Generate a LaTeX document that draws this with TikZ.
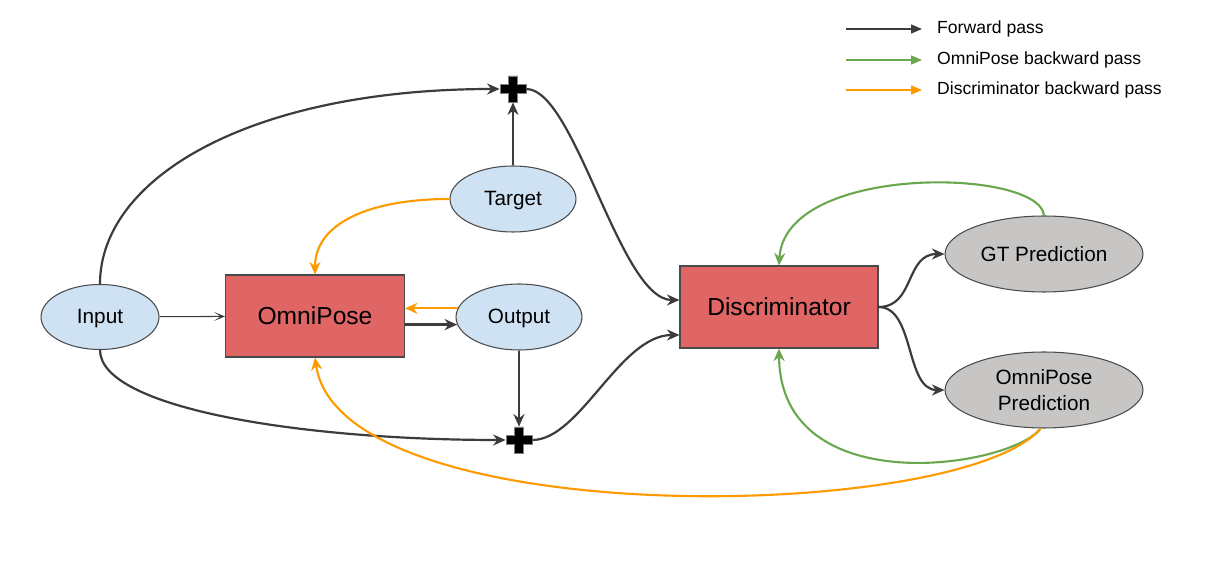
\documentclass[tikz,border=0pt]{standalone}
\usepackage{fontspec}
\setmainfont{Liberation Sans}
\usetikzlibrary{arrows.meta,calc,shapes.geometric}
\definecolor{fwdgray}{HTML}{3F3B3B}
\definecolor{edgegray}{HTML}{4A4A4A}
\definecolor{ombgreen}{HTML}{6AA84F}
\definecolor{disorange}{HTML}{FF9900}
\definecolor{datablue}{HTML}{CFE2F3}
\definecolor{netred}{HTML}{E06666}
\definecolor{predgray}{RGB}{200,198,196}
\tikzset{
    datanode/.style={ellipse, draw=edgegray, fill=datablue, line width=0.6pt, inner sep=0pt,
      minimum width=2.52cm, minimum height=1.32cm, text height=0.905em, text depth=0.212em,
      font=\fontsize{11.8}{14}\selectfont},
    netnode/.style={rectangle, draw=edgegray, fill=netred, line width=0.6pt, inner sep=0pt,
      minimum height=1.64cm, text height=0.95em, text depth=0pt, font=\fontsize{14}{16}\selectfont},
    prednode/.style={ellipse, draw=edgegray, fill=predgray, line width=0.6pt, inner sep=0pt,
      minimum width=3.96cm, minimum height=1.52cm, align=center, font=\fontsize{11.8}{14.8}\selectfont},
    plusnode/.style={rectangle, inner sep=0pt, minimum size=0.52cm},
    plusfill/.style={fill=black, draw=gray, line width=0.5pt},
    fwd/.style={draw=fwdgray, line width=1.25pt, -{Stealth[length=0.25cm, width=0.22cm, inset=0.08cm]}},
    thinfwd/.style={draw=fwdgray, line width=0.6pt, -{Stealth[length=0.22cm, width=0.18cm, inset=0.13cm]}},
    obwd/.style={draw=ombgreen, line width=1.2pt, -{Stealth[length=0.25cm, width=0.22cm, inset=0.08cm]}},
    dbwd/.style={draw=disorange, line width=1.2pt, -{Stealth[length=0.25cm, width=0.22cm, inset=0.08cm]}},
    legendtext/.style={anchor=west, font=\fontsize{10}{12}\selectfont},
    legendarrow/.style={line width=0.8pt, shorten >=0.18cm, -{Triangle[length=0.22cm, width=0.18cm]}},
  }
\begin{document}
\begin{tikzpicture}[x=0.02cm,y=0.02cm]
	\useasboundingbox (0,0) rectangle (1225,568);
	%NODES
	\node[datanode, minimum width=2.36cm, minimum height=1.3cm] (input) at (100,251) {Input};
	\node[netnode, minimum width=3.58cm] (omnipose) at (315,252) {OmniPose};
	\node[datanode] (output) at (519,251) {Output};
	\node[datanode] (target) at (513,369) {Target};
	\node[netnode, minimum width=3.96cm] (disc) at (779,261) {Discriminator};
	\node[prednode] (gtpred) at (1044,314) {GT Prediction};
	\node[prednode] (ompred) at (1044,178) {OmniPose\\Prediction};
	%PLUS
	\node[plusnode] (plustop) at (513,479) {};
	\node[plusnode] (plusbot) at (519,128) {};
	\foreach \p in {plustop,plusbot}
	  \filldraw[plusfill] (\p) ++(-13,-4.5) -- ++(8.5,0) -- ++(0,-8.5) -- ++(9,0) -- ++(0,8.5) -- ++(8.5,0)
	    -- ++(0,9) -- ++(-8.5,0) -- ++(0,8.5) -- ++(-9,0) -- ++(0,-8.5) -- ++(-8.5,0) -- cycle;
	%FORWARD PASS
	\draw[thinfwd] (input) -- (omnipose);
	\draw[fwd] (omnipose.east |- output.187.5) -- (output.187.5);
	\draw[fwd] (input.north) .. controls (100,390) and (250,479) .. (plustop.west);
	\draw[fwd] (target.north) -- (plustop.south);
	\draw[fwd] (plustop.east) .. controls (575,479) and (620,268) .. ([yshift=0.14cm]disc.west);
	\draw[fwd] (input.south) .. controls (100,160) and (300,128) .. (plusbot.west);
	\draw[fwd] (output.south) -- (plusbot.north);
	\draw[fwd] (plusbot.east) .. controls (580,128) and (620,233) .. ([yshift=-0.56cm]disc.west);
	\draw[fwd] (disc.east) .. controls (915,261) and (905,314) .. (gtpred.west);
	\draw[fwd] (disc.east) .. controls (915,261) and (905,178) .. (ompred.west);
	%OMNIPOSE BACKWARD
	\draw[obwd] (gtpred.north) .. controls (1040,400) and (785,405) .. (disc.north);
	\draw[obwd] (ompred.265) .. controls (1010,100) and (780,65) .. (disc.south);
	%DISCRIMINATOR BACKWARD
	\draw[dbwd] (output.172.5) -- (omnipose.east |- output.172.5);
	\draw[dbwd] (target.west) .. controls (370,369) and (315,345) .. (omnipose.north);
	\draw[dbwd] (ompred.265) .. controls (960,45) and (340,35) .. (omnipose.south);
	%LEGEND
	\foreach \y/\c/\t [count=\i] in {539/fwdgray/Forward pass, 508/ombgreen/OmniPose backward pass, 478/disorange/Discriminator backward pass}{
	  \coordinate (ls\i) at (846,\y);
	  \node[legendtext] (lt\i) at (931,\y) {\t};
	  \draw[legendarrow, draw=\c, fill=\c] (ls\i) -- (lt\i.west);
	}
\end{tikzpicture}
\end{document}
